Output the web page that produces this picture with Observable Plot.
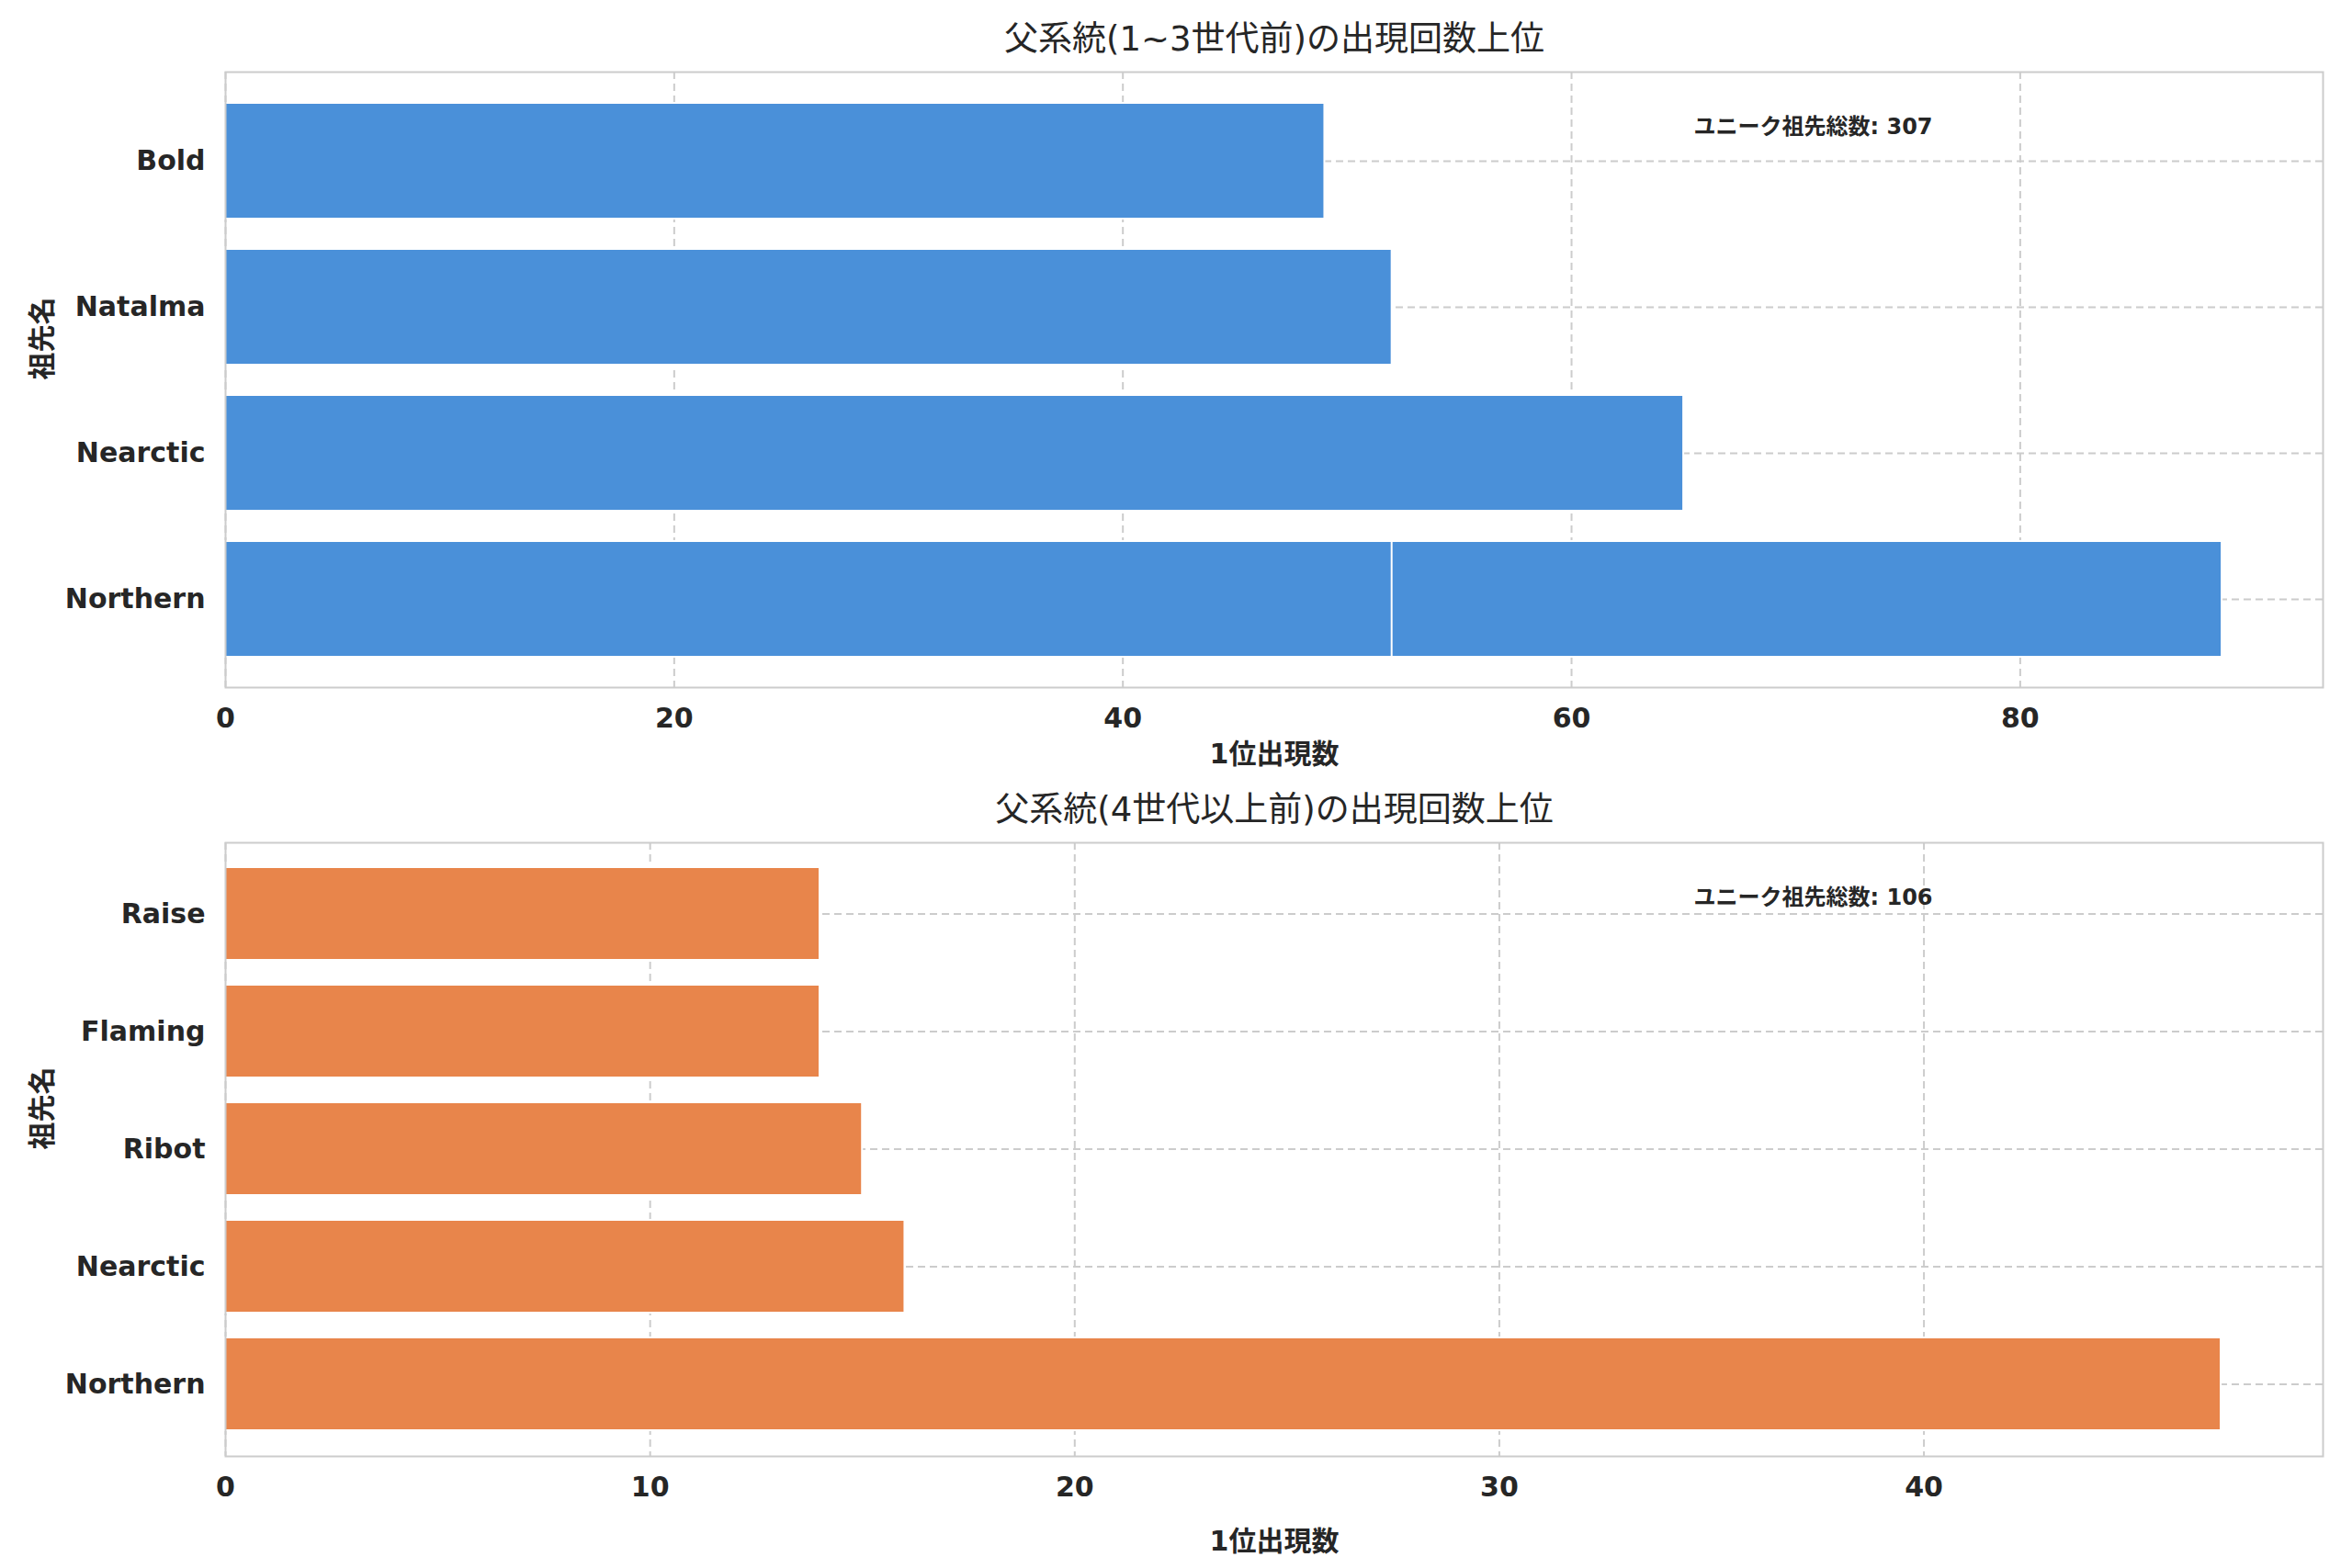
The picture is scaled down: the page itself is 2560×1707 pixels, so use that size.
<!DOCTYPE html>
<html><head><meta charset="utf-8">
<script src="https://cdn.jsdelivr.net/npm/d3@7"></script>
<script src="https://cdn.jsdelivr.net/npm/@observablehq/plot@0.6"></script>
<style>body{margin:0;background:#fff;font-family:"DejaVu Sans","Noto Sans CJK JP",sans-serif}
#c{position:relative;width:2560px;height:1707px}#c svg{position:absolute;left:0}</style>
</head><body><div id="c"></div>
<script>
const topNames = ["Bold","Natalma","Nearctic","Northern","Northern"];
const topCounts = [49,52,65,89,52];
const topTicks = [0,20,40,60,80];
const botNames = ["Raise","Flaming","Ribot","Nearctic","Northern"];
const botCounts = [14,14,15,16,47];
const botTicks = [0,10,20,30,40];
const titles = ["父系統(1~3世代前)の出現回数上位","父系統(4世代以上前)の出現回数上位"];
const notes = ["ユニーク祖先総数: 307","ユニーク祖先総数: 106"];
const xLabel = "1位出現数", yLabel = "祖先名";

function panel(names, counts, ticks, xmax, color, title, note, h, mt, mb){
  const data = names.map((n,i)=>({n,v:counts[i]}));
  const dom = [...new Set(names)];
  const font = `"DejaVu Sans","Noto Sans CJK JP",sans-serif`;
  return Plot.plot({
    width:2560, height:h, marginLeft:245, marginRight:32, marginTop:mt, marginBottom:mb,
    style:{fontFamily:font, fontSize:"30px", color:"#262626", background:"white", overflow:"visible"},
    x:{domain:[0,xmax], ticks:ticks, tickSize:0, tickPadding:22, label:null, tickFormat:d=>d},
    y:{domain:dom, padding:0.21, tickSize:0, tickPadding:22, label:null},
    marks:[
      Plot.gridX(ticks,{stroke:"#cccccc",strokeOpacity:1,strokeDasharray:"8,5",strokeWidth:2}),
      Plot.gridY(dom,{stroke:"#cccccc",strokeOpacity:1,strokeDasharray:"8,5",strokeWidth:2}),
      Plot.barX(data,{x1:0,x2:"v",y:"n",fill:color,stroke:"white",strokeWidth:2}),
      Plot.frame({stroke:"#cccccc",strokeWidth:2}),
      Plot.axisX({ticks, tickSize:0, tickPadding:22, fontWeight:"bold", label:null}),
      Plot.axisY({tickSize:0, tickPadding:22, fontWeight:"bold", label:null}),
      Plot.text([title],{frameAnchor:"top",dy:-50,fontSize:37,fill:"#262626"}),
      Plot.text([note],{frameAnchor:"top-left",dx:1598,dy:50,fontSize:24,fontWeight:"bold",fill:"#262626"}),
      Plot.text([xLabel],{frameAnchor:"bottom",dy:mb-20,fontSize:30,fontWeight:"bold",fill:"#262626"}),
      Plot.text([yLabel],{frameAnchor:"left",dx:-199,rotate:-90,fontSize:30,fontWeight:"bold",fill:"#262626"})
    ]
  });
}
const c = document.getElementById("c");
const s1 = panel(topNames,topCounts,topTicks,93.5,"#4a90d9",titles[0],notes[0],850,78,102);
s1.style.top="0px"; c.appendChild(s1);
const s2 = panel(botNames,botCounts,botTicks,49.4,"#e8854b",titles[1],notes[1],857,67,122);
s2.style.top="850px"; c.appendChild(s2);
</script></body></html>
